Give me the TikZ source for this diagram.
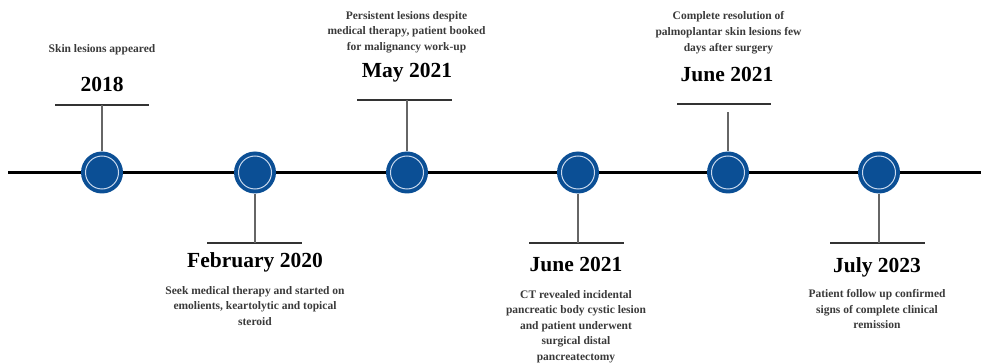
\documentclass[tikz,border=0pt]{standalone}
\usepackage{fontspec}
\setmainfont{Liberation Serif}
\definecolor{dotblue}{HTML}{0B4F95}
\definecolor{ringcol}{HTML}{C9D9EE}
\definecolor{desccol}{HTML}{3A3A3A}
\definecolor{stemcol}{HTML}{666666}
\definecolor{barcol}{HTML}{333333}
\tikzset{
  dot/.style={circle,fill=dotblue,draw=none,minimum size=42pt,inner sep=0pt,
    path picture={\draw[ringcol,line width=1pt] (path picture bounding box.center) circle (16.5pt);}},
  desc/.style={font=\fontsize{11.5}{15.6}\selectfont\bfseries,text=desccol,align=center,inner sep=0pt},
  datelbl/.style={font=\fontsize{21.5}{24}\selectfont\bfseries,text=black,inner sep=0pt,anchor=base},
  stem/.style={stemcol,line width=1.5pt},
  bar/.style={barcol,line width=2pt},
  mainline/.style={black,line width=3pt}
}
\begin{document}
\begin{tikzpicture}[x=1pt,y=-1pt]
\useasboundingbox (0,0) rectangle (981,363);
% main line
\coordinate (L) at (8,172.5);
\coordinate (R) at (981,172.5);
\draw[mainline] (L) -- (R);
% dots
\node[dot] (c1) at (102,172.5) {};
\node[dot] (c2) at (255,172.5) {};
\node[dot] (c3) at (407,172.5) {};
\node[dot] (c4) at (578,172.5) {};
\node[dot] (c5) at (728,172.5) {};
\node[dot] (c6) at (879,172.5) {};
% event 1 (top)
\coordinate (b1l) at (55,105); \coordinate (b1r) at (149,105); \coordinate (s1) at (102,105);
\draw[bar] (b1l) -- (b1r);
\draw[stem] (c1) -- (s1);
\node[datelbl] (d1) at (102,92) {2018};
\node[desc,anchor=north] (t1) at (102,44.7) {Skin lesions appeared};
% event 2 (bottom)
\coordinate (b2l) at (207,243); \coordinate (b2r) at (302,243); \coordinate (s2) at (255,243);
\draw[bar] (b2l) -- (b2r);
\draw[stem] (c2) -- (s2);
\node[datelbl] (d2) at (255,267) {February 2020};
\node[desc,anchor=north] (t2) at (255,286.2) {Seek medical therapy and started on\\emolients, keartolytic and topical\\steroid};
% event 3 (top)
\coordinate (b3l) at (357,100); \coordinate (b3r) at (452,100); \coordinate (s3) at (407,100);
\draw[bar] (b3l) -- (b3r);
\draw[stem] (c3) -- (s3);
\node[datelbl] (d3) at (407,77.3) {May 2021};
\node[desc,anchor=north] (t3) at (406.5,11.2) {Persistent lesions despite\\medical therapy, patient booked\\for malignancy work-up};
% event 4 (bottom)
\coordinate (b4l) at (529,243); \coordinate (b4r) at (624,243); \coordinate (s4) at (578,243);
\draw[bar] (b4l) -- (b4r);
\draw[stem] (c4) -- (s4);
\node[datelbl] (d4) at (576,271.5) {June 2021};
\node[desc,anchor=north] (t4) at (576,289.9) {CT revealed incidental\\pancreatic body cystic lesion\\and patient underwent\\surgical distal\\pancreatectomy};
% event 5 (top)
\coordinate (b5l) at (677,104); \coordinate (b5r) at (771,104); \coordinate (s5) at (728,112);
\draw[bar] (b5l) -- (b5r);
\draw[stem] (c5) -- (s5);
\node[datelbl] (d5) at (727,81.7) {June 2021};
\node[desc,anchor=north] (t5) at (728.5,11.7) {Complete resolution of\\palmoplantar skin lesions few\\days after surgery};
% event 6 (bottom)
\coordinate (b6l) at (830,243); \coordinate (b6r) at (925,243); \coordinate (s6) at (879,243);
\draw[bar] (b6l) -- (b6r);
\draw[stem] (c6) -- (s6);
\node[datelbl] (d6) at (877,272) {July 2023};
\node[desc,anchor=north] (t6) at (877,289.2) {Patient follow up confirmed\\signs of complete clinical\\remission};
\end{tikzpicture}
\end{document}
